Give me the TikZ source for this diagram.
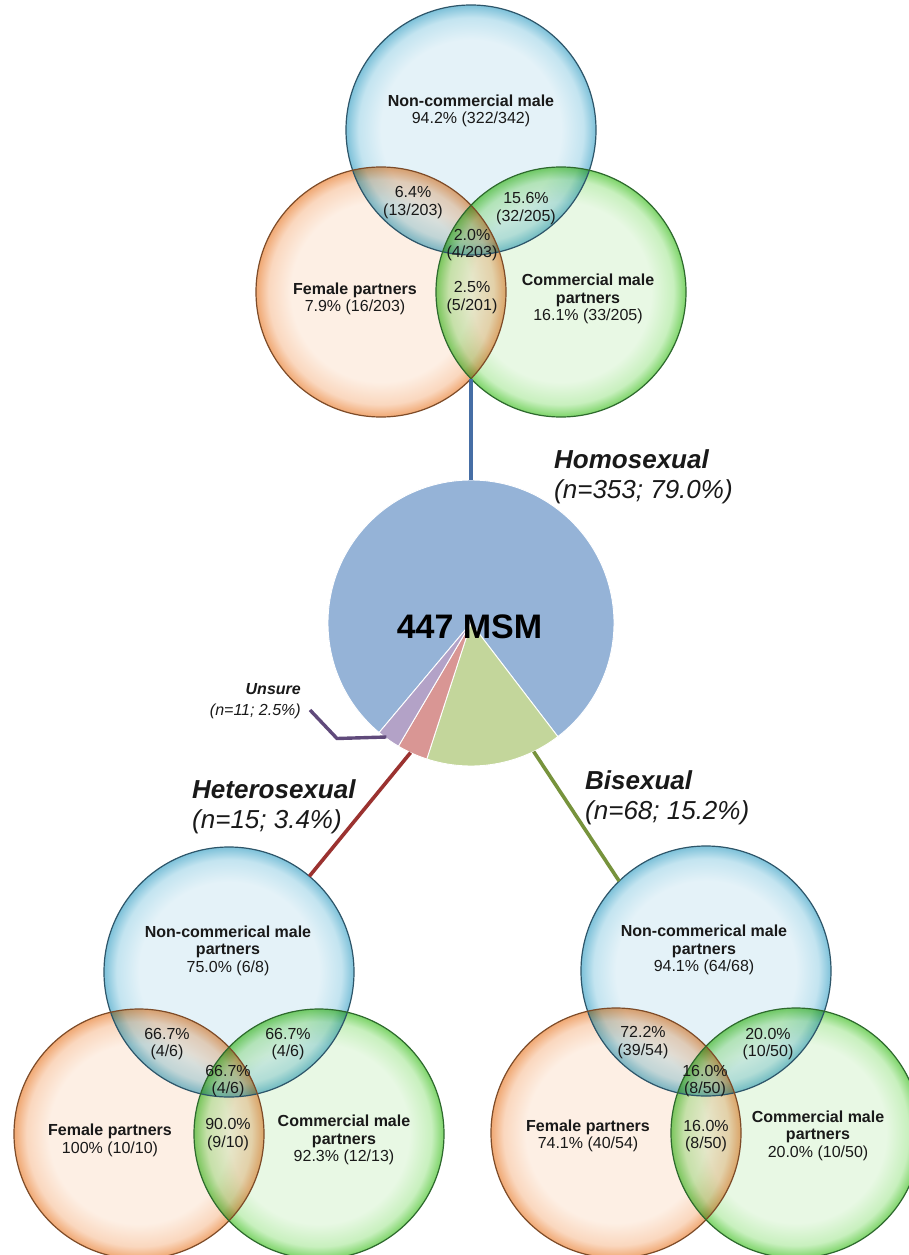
\documentclass[tikz,border=0pt]{standalone}
\usepackage{fontspec}
\setmainfont{Liberation Sans}
\usetikzlibrary{calc}

\definecolor{txt}{RGB}{25,25,25}
\definecolor{vbin}{RGB}{228,242,248}
\definecolor{vbmid}{RGB}{195,228,240}
\definecolor{vbrim}{RGB}{125,193,217}
\definecolor{voin}{RGB}{253,239,228}
\definecolor{vomid}{RGB}{250,215,190}
\definecolor{vorim}{RGB}{240,168,115}
\definecolor{vgin}{RGB}{232,248,228}
\definecolor{vgmid}{RGB}{200,240,190}
\definecolor{vgrim}{RGB}{125,212,105}
\definecolor{vbline}{RGB}{45,85,105}
\definecolor{voline}{RGB}{125,75,40}
\definecolor{vgline}{RGB}{45,105,45}
\definecolor{pieblue}{RGB}{149,179,215}
\definecolor{piegreen}{RGB}{195,214,155}
\definecolor{piered}{RGB}{217,150,148}
\definecolor{piepurple}{RGB}{179,162,199}
\definecolor{cblue}{RGB}{70,110,165}
\definecolor{cred}{RGB}{155,50,48}
\definecolor{cgreen}{RGB}{119,147,60}
\definecolor{cpurple}{RGB}{96,74,123}

\pgfdeclareradialshading{vennblue}{\pgfpoint{0bp}{0bp}}{color(0bp)=(vbin); color(18bp)=(vbin); color(22.5bp)=(vbmid); color(25bp)=(vbrim); color(50bp)=(vbrim)}
\pgfdeclareradialshading{vennorange}{\pgfpoint{0bp}{0bp}}{color(0bp)=(voin); color(18bp)=(voin); color(22.5bp)=(vomid); color(25bp)=(vorim); color(50bp)=(vorim)}
\pgfdeclareradialshading{venngreen}{\pgfpoint{0bp}{0bp}}{color(0bp)=(vgin); color(18bp)=(vgin); color(22.5bp)=(vgmid); color(25bp)=(vgrim); color(50bp)=(vgrim)}

\tikzset{
  vcirc/.style={circle, minimum size=250pt, inner sep=0pt, outer sep=0pt, shade, blend mode=multiply},
  vrim/.style={line width=1.2pt},
  vtext/.style={font=\fontsize{16}{17.5}\selectfont, align=center, text=txt, inner sep=0pt},
  biglab/.style={font=\fontsize{26}{30}\selectfont, align=left, text=txt, inner sep=0pt, anchor=west},
  slice/.style={draw=white, line width=0.9pt},
  conn/.style={line width=3.6pt},
}

\begin{document}
\begin{tikzpicture}[x=1pt, y=-1pt]
\fill[white] (0,0) rectangle (909,1255);
\useasboundingbox (0,0) rectangle (909,1255);

% ---------- top Venn ----------
\node[vcirc, shading=vennblue]   (t-blue)   at (471,130) {};
\node[vcirc, shading=vennorange] (t-orange) at (381,292) {};
\node[vcirc, shading=venngreen]  (t-green)  at (561,292) {};
\draw[vrim, vbline] (t-blue.center) circle[radius=125];
\draw[vrim, voline] (t-orange.center) circle[radius=125];
\draw[vrim, vgline] (t-green.center) circle[radius=125];

\node[vtext] (t-n)   at (471,111)   {\textbf{Non-commercial male}\\94.2\% (322/342)};
\node[vtext] (t-bo)  at (413,202.5) {6.4\%\\(13/203)};
\node[vtext] (t-bg)  at (526,208.5) {15.6\%\\(32/205)};
\node[vtext] (t-all) at (472,245)   {2.0\%\\(4/203)};
\node[vtext] (t-f)   at (355,299)   {\textbf{Female partners}\\7.9\% (16/203)};
\node[vtext] (t-og)  at (472,297.5) {2.5\%\\(5/201)};
\node[vtext] (t-c)   at (588,299)   {\textbf{Commercial male}\\\textbf{partners}\\16.1\% (33/205)};

% ---------- bottom-left Venn ----------
\node[vcirc, shading=vennblue]   (l-blue)   at (229,972) {};
\node[vcirc, shading=vennorange] (l-orange) at (139,1134) {};
\node[vcirc, shading=venngreen]  (l-green)  at (319,1134) {};
\draw[vrim, vbline] (l-blue.center) circle[radius=125];
\draw[vrim, voline] (l-orange.center) circle[radius=125];
\draw[vrim, vgline] (l-green.center) circle[radius=125];

\node[vtext] (l-n)   at (228,950.5)  {\textbf{Non-commerical male}\\\textbf{partners}\\75.0\% (6/8)};
\node[vtext] (l-bo)  at (167,1044)   {66.7\%\\(4/6)};
\node[vtext] (l-bg)  at (288,1044)   {66.7\%\\(4/6)};
\node[vtext] (l-all) at (228,1081)   {66.7\%\\(4/6)};
\node[vtext] (l-f)   at (110,1140.5) {\textbf{Female partners}\\100\% (10/10)};
\node[vtext] (l-og)  at (228,1134.5) {90.0\%\\(9/10)};
\node[vtext] (l-c)   at (344,1140)   {\textbf{Commercial male}\\\textbf{partners}\\92.3\% (12/13)};

% ---------- bottom-right Venn ----------
\node[vcirc, shading=vennblue]   (r-blue)   at (706,971) {};
\node[vcirc, shading=vennorange] (r-orange) at (616,1133) {};
\node[vcirc, shading=venngreen]  (r-green)  at (796,1133) {};
\draw[vrim, vbline] (r-blue.center) circle[radius=125];
\draw[vrim, voline] (r-orange.center) circle[radius=125];
\draw[vrim, vgline] (r-green.center) circle[radius=125];

\node[vtext] (r-n)   at (704,950)    {\textbf{Non-commerical male}\\\textbf{partners}\\94.1\% (64/68)};
\node[vtext] (r-bo)  at (643,1042.5) {72.2\%\\(39/54)};
\node[vtext] (r-bg)  at (768,1044)   {20.0\%\\(10/50)};
\node[vtext] (r-all) at (705,1081)   {16.0\%\\(8/50)};
\node[vtext] (r-f)   at (588,1136)   {\textbf{Female partners}\\74.1\% (40/54)};
\node[vtext] (r-og)  at (706,1136)   {16.0\%\\(8/50)};
\node[vtext] (r-c)   at (818,1135.5) {\textbf{Commercial male}\\\textbf{partners}\\20.0\% (10/50)};

% ---------- pie ----------
\coordinate (pie) at (471,623);
\fill[pieblue, slice]   (pie) -- ++(130:143) arc[start angle=130, end angle=412.6, radius=143] -- cycle;
\fill[piegreen, slice]  (pie) -- ++(52.6:143) arc[start angle=52.6, end angle=108, radius=143] -- cycle;
\fill[piered, slice]    (pie) -- ++(108:143) arc[start angle=108, end angle=120.5, radius=143] -- cycle;
\fill[piepurple, slice] (pie) -- ++(120.5:143) arc[start angle=120.5, end angle=130, radius=143] -- cycle;

\coordinate (pie-top) at ($(pie)+(270:143)$);
\coordinate (pie-red) at ($(pie)+(115:143)$);
\coordinate (pie-grn) at ($(pie)+(64:143)$);
\coordinate (pie-pur) at ($(pie)+(126.6:142)$);
\coordinate (t-bot) at (471,378.7);
\coordinate (u-knee) at (337,738.5);
\coordinate (u-end) at (310,710);

\node[font=\fontsize{34}{36}\selectfont\bfseries, text=black, inner sep=0pt] (msm) at (469.5,627) {447 MSM};

% ---------- connectors ----------
\draw[conn, cblue] (t-bot) -- (pie-top);
\draw[conn, cred] (pie-red) -- (l-blue.50);
\draw[conn, cgreen] (pie-grn) -- (r-blue.134);
\draw[line width=3.4pt, cpurple] (pie-pur) -- (u-knee) -- (u-end);

% ---------- labels ----------
\node[biglab] (homo) at (554,477) {\textbf{\textit{Homosexual}}\\\textit{(n=353; 79.0\%)}};
\node[biglab] (hetero) at (192,807) {\textbf{\textit{Heterosexual}}\\\textit{(n=15; 3.4\%)}};
\node[biglab] (bi) at (585,798) {\textbf{\textit{Bisexual}}\\\textit{(n=68; 15.2\%)}};
\node[font=\fontsize{16}{21}\selectfont, align=right, text=txt, inner sep=0pt, anchor=east] (unsure) at (301,701.5) {\textbf{\textit{Unsure}}\\\textit{(n=11; 2.5\%)}};
\end{tikzpicture}
\end{document}
